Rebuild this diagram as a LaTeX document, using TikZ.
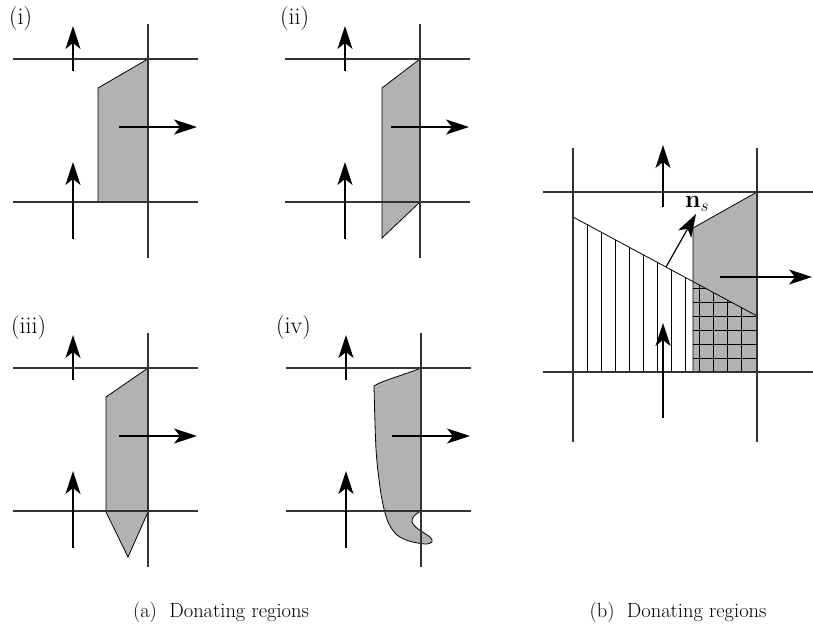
\documentclass[tikz,border=0pt]{standalone}
\usetikzlibrary{arrows.meta}
\tikzset{
  cellline/.style={line width=1.3pt, black!80},
  flux/.style={-{Stealth[length=23pt, width=15pt, inset=6pt]}, line width=1.2pt},
  donor/.style={fill=black!30, draw=black, line width=0.8pt},
  hatch/.style={line width=0.8pt},
  tag/.style={font=\fontsize{24}{28}\selectfont, inner sep=0pt, anchor=west},
  capt/.style={font=\fontsize{20.5}{24}\selectfont, inner sep=0pt},
}
\begin{document}
\begin{tikzpicture}[x=1pt, y=-1pt]
  \useasboundingbox (0,0) rectangle (813,644);
  % donating regions (a)
  \draw[donor] (148,59) -- (98,88) -- (98,202) -- (148,202) -- cycle;
  \begin{scope}[shift={(272,0)}]
    \draw[donor] (148,59) -- (110,88) -- (110,238) -- (148,202) -- cycle;
  \end{scope}
  \begin{scope}[shift={(0,309)}]
    \draw[donor] (148,59) -- (106,88) -- (106,203) -- (128,248) -- (148,203) -- cycle;
  \end{scope}
  \begin{scope}[shift={(273,309)}]
    \draw[donor] (148,202) -- (148,59) .. controls (128,67) and (108,72) .. (101,77)
      -- plot[smooth, tension=0.55] coordinates {(101,77) (103,140) (107,178) (111,200)
      (116,215) (124,226) (136,232) (152,235) (159,233) (157,228) (145,220) (139,213)
      (141,207) (148,202)} -- cycle;
  \end{scope}
  \foreach \dx/\dy in {0/0, 272/0, 0/309, 273/309} {
    \begin{scope}[shift={(\dx,\dy)}]
      \draw[cellline] (13,59) -- (198,59);
      \draw[cellline] (13,202) -- (198,202);
      \draw[cellline] (148,24) -- (148,258);
      \draw[flux] (73,71) -- (73,26);
      \draw[flux] (73,239) -- (73,162);
      \draw[flux] (119,127) -- (197,127);
    \end{scope}
  }
  \node[tag] (lbli) at (9,19) {(i)};
  \node[tag] (lblii) at (280,19) {(ii)};
  \node[tag] (lbliii) at (11,328) {(iii)};
  \node[tag] (lbliv) at (276,328) {(iv)};
  % donating regions (b)
  \draw[donor] (757,192) -- (693,228) -- (693,372) -- (757,372) -- cycle;
  \begin{scope}
    \clip (573,217) -- (757,316) -- (757,372) -- (573,372) -- cycle;
    \foreach \k in {1,...,12}
      \draw[hatch] (573+14*\k,200) -- (573+14*\k,372);
    \clip (693,200) rectangle (757,372);
    \foreach \k in {1,...,6}
      \draw[hatch] (693,372-14*\k) -- (757,372-14*\k);
  \end{scope}
  \draw[hatch] (573,217) -- (757,316);
  \draw[cellline] (543,192) -- (813,192);
  \draw[cellline] (543,372) -- (813,372);
  \draw[cellline] (573,148) -- (573,442);
  \draw[cellline] (757,148) -- (757,442);
  \draw[flux] (663,207) -- (663,145);
  \draw[flux] (663,418) -- (663,323);
  \draw[flux] (720,277) -- (812,277);
  \draw[flux] (666,267) -- (696,214);
  \node[font=\fontsize{23}{27}\selectfont, inner sep=0pt] (ns) at (697,204) {$\mathbf{n}_s$};
  % captions
  \node[capt] (capa) at (221,612) {(a)\ \ Donating regions};
  \node[capt] (capb) at (678,612) {(b)\ \ Donating regions};
\end{tikzpicture}
\end{document}
